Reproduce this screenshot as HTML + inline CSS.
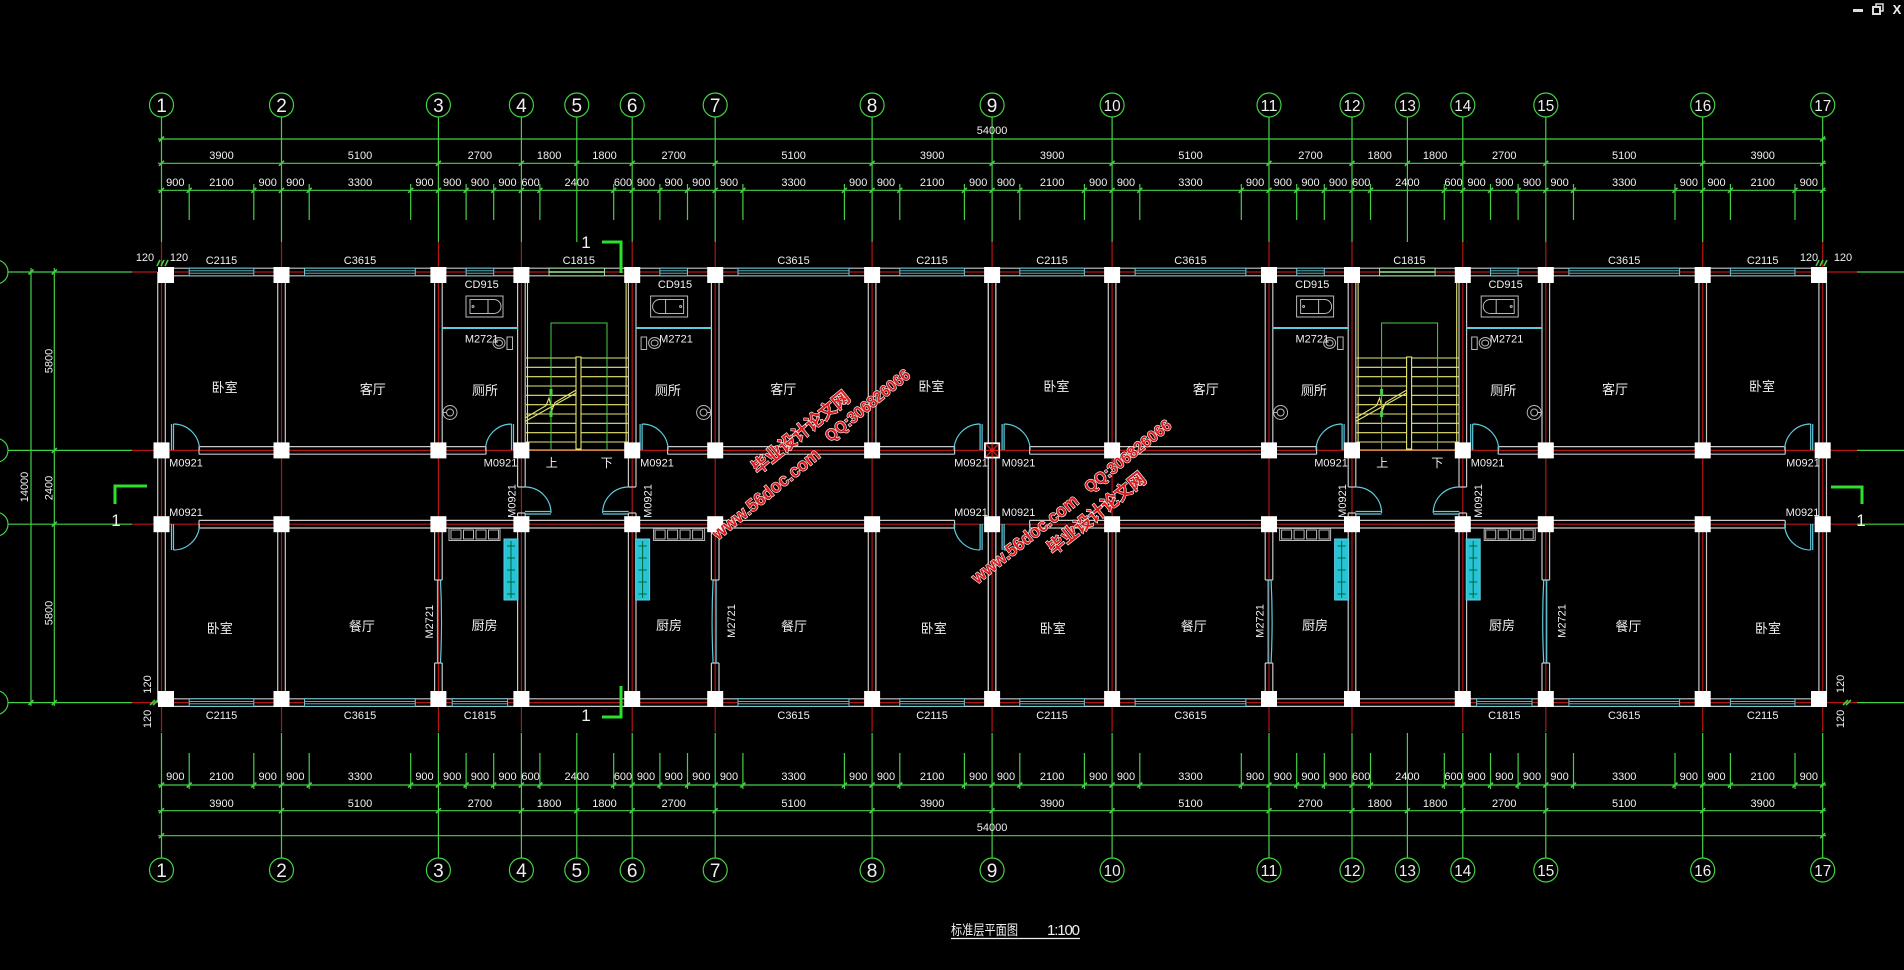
<!DOCTYPE html>
<html><head><meta charset="utf-8"><style>
html,body{margin:0;padding:0;background:#000;overflow:hidden}
svg{display:block}
text{font-family:"Liberation Sans","Noto Sans CJK SC",sans-serif;fill:#f0f0f0}
.t{font-size:11px;text-anchor:middle}
.r{font-size:13px;text-anchor:middle}
.b{font-size:19px;text-anchor:middle}
.b2{font-size:16px;text-anchor:middle}
.s{font-size:17px;text-anchor:middle}
.wm text{font-weight:bold;fill:#dc1c1c;stroke:#ffffff;stroke-width:1.2px;paint-order:stroke fill;text-anchor:middle;dominant-baseline:central}
</style></head><body>
<svg width="1904" height="970" viewBox="0 0 1904 970" xmlns="http://www.w3.org/2000/svg">
<rect width="1904" height="970" fill="#000"/>
<defs>
<path id="ts" fill="none" stroke="#44d044" stroke-width="1.6" d="M159 2.5l5 -5M186.7 2.5l5 -5M251.3 2.5l5 -5M279 2.5l5 -5M306.7 2.5l5 -5M408.2 2.5l5 -5M435.9 2.5l5 -5M463.6 2.5l5 -5M491.2 2.5l5 -5M518.9 2.5l5 -5M537.4 2.5l5 -5M611.2 2.5l5 -5M629.7 2.5l5 -5M657.4 2.5l5 -5M685 2.5l5 -5M712.7 2.5l5 -5M740.4 2.5l5 -5M841.9 2.5l5 -5M869.6 2.5l5 -5M897.3 2.5l5 -5M961.9 2.5l5 -5M989.6 2.5l5 -5M1017.3 2.5l5 -5M1081.9 2.5l5 -5M1109.6 2.5l5 -5M1137.3 2.5l5 -5M1238.8 2.5l5 -5M1266.5 2.5l5 -5M1294.2 2.5l5 -5M1321.8 2.5l5 -5M1349.5 2.5l5 -5M1368 2.5l5 -5M1441.8 2.5l5 -5M1460.3 2.5l5 -5M1488 2.5l5 -5M1515.6 2.5l5 -5M1543.3 2.5l5 -5M1571 2.5l5 -5M1672.5 2.5l5 -5M1700.2 2.5l5 -5M1727.9 2.5l5 -5M1792.5 2.5l5 -5M1820.2 2.5l5 -5"/>
<path id="tc" fill="none" stroke="#44d044" stroke-width="1.6" d="M159 2.5l5 -5M279 2.5l5 -5M435.9 2.5l5 -5M518.9 2.5l5 -5M574.3 2.5l5 -5M629.7 2.5l5 -5M712.7 2.5l5 -5M869.6 2.5l5 -5M989.6 2.5l5 -5M1109.6 2.5l5 -5M1266.5 2.5l5 -5M1349.5 2.5l5 -5M1404.9 2.5l5 -5M1460.3 2.5l5 -5M1543.3 2.5l5 -5M1700.2 2.5l5 -5M1820.2 2.5l5 -5"/>
<path id="ex" fill="none" stroke="#44d044" stroke-width="1.2" d="M189.2 0v36M253.8 0v36M309.2 0v36M410.7 0v36M466.1 0v36M493.7 0v36M539.9 0v36M613.7 0v36M659.9 0v36M687.5 0v36M742.9 0v36M844.4 0v36M899.8 0v36M964.4 0v36M1019.8 0v36M1084.4 0v36M1139.8 0v36M1241.3 0v36M1296.7 0v36M1324.3 0v36M1370.5 0v36M1444.3 0v36M1490.5 0v36M1518.1 0v36M1573.5 0v36M1675 0v36M1730.4 0v36M1795 0v36"/>
<path id="ax" fill="none" stroke="#44d044" stroke-width="1.2" d="M161.5 0v125M281.5 0v125M438.4 0v125M521.4 0v125M576.8 0v125M632.2 0v125M715.2 0v125M872.1 0v125M992.1 0v125M1112.1 0v125M1269 0v125M1352 0v125M1407.4 0v125M1462.8 0v125M1545.8 0v125M1702.7 0v125M1822.7 0v125"/>
<g id="bub" fill="#000" stroke="#44d044" stroke-width="1.2">
<circle cx="161.5" cy="0" r="12"/><circle cx="281.5" cy="0" r="12"/><circle cx="438.4" cy="0" r="12"/><circle cx="521.4" cy="0" r="12"/><circle cx="576.8" cy="0" r="12"/><circle cx="632.2" cy="0" r="12"/><circle cx="715.2" cy="0" r="12"/><circle cx="872.1" cy="0" r="12"/><circle cx="992.1" cy="0" r="12"/><circle cx="1112.1" cy="0" r="12"/><circle cx="1269" cy="0" r="12"/><circle cx="1352" cy="0" r="12"/><circle cx="1407.4" cy="0" r="12"/><circle cx="1462.8" cy="0" r="12"/><circle cx="1545.8" cy="0" r="12"/><circle cx="1702.7" cy="0" r="12"/><circle cx="1822.7" cy="0" r="12"/>
</g>
<g id="cr" fill="#fff">
<rect x="273.5" y="0" width="16" height="16"/><rect x="430.4" y="0" width="16" height="16"/><rect x="513.4" y="0" width="16" height="16"/><rect x="624.2" y="0" width="16" height="16"/><rect x="707.2" y="0" width="16" height="16"/><rect x="864.1" y="0" width="16" height="16"/><rect x="984.1" y="0" width="16" height="16"/><rect x="1104.1" y="0" width="16" height="16"/><rect x="1261" y="0" width="16" height="16"/><rect x="1344" y="0" width="16" height="16"/><rect x="1454.8" y="0" width="16" height="16"/><rect x="1537.8" y="0" width="16" height="16"/><rect x="1694.7" y="0" width="16" height="16"/>
</g>
<g id="q">
<path fill="none" stroke="#c8c8c8" stroke-width="1.2" d="M157.7 272V702.6M165.3 272V702.6M277.7 272V450.4M285.3 272V450.4M277.7 524.2V702.6M285.3 524.2V702.6M434.6 272V450.4M442.2 272V450.4M434.6 524.2V580M442.2 524.2V580M434.6 663V702.6M442.2 663V702.6M517.6 272V487M525.2 272V487M517.6 513V702.6M525.2 513V702.6M199 446.6H486M199 454.2H486M199 520.4H577M199 528H577M434.6 580H442.2M434.6 663H442.2M517.6 487H525.2M517.6 513H525.2M199 446.6V454.2M486 446.6V454.2M199 520.4V528"/>
<path fill="none" stroke="#5fcde0" stroke-width="1.2" d="M171.5 450V424M173.5 450V424M173.5 424A26 26 0 0 1 199.5 450M171.5 524V550M173.5 524V550M199.5 524A26 26 0 0 1 173.5 550M511.5 450V424M513.5 450V424M511.5 424A26 26 0 0 0 485.5 450M525 511.5H551M525 514H551M551 513A26 26 0 0 0 525 487M437.5 580V663M440.5 580Q442.5 621 440.5 663"/>
<path stroke="#5fcde0" stroke-width="2" d="M442 328H518"/>
<g fill="none" stroke="#b8b8b8" stroke-width="1">
<rect x="466" y="296" width="37" height="21"/>
<path d="M470 299.5H494A7 7 0 0 1 494 313.5H470ZM488 299.5V313.5"/>
<circle cx="473" cy="306.5" r="1"/>
<ellipse cx="499" cy="343" rx="6" ry="5.5"/><ellipse cx="499" cy="343" rx="3.5" ry="3"/>
<rect x="507" y="337" width="5.5" height="12.5"/>
<circle cx="450" cy="412.5" r="7"/><circle cx="450" cy="412.5" r="3.5"/><path d="M442 412.5h5"/>
<rect x="449" y="528.5" width="51" height="12"/>
<rect x="451" y="530" width="10" height="9"/><rect x="463.5" y="530" width="10" height="9"/><rect x="476" y="530" width="10" height="9"/><rect x="488.5" y="530" width="10" height="9"/>
</g>
<rect x="504" y="539" width="14" height="61" fill="#27c3d6" stroke="#5fcde0"/>
<path stroke="#063" stroke-width="1" d="M507 546h8M507 558h8M507 570h8M507 582h8M507 594h8M511 541v57"/>
</g>
<g id="st">
<path fill="none" stroke="#e6e66e" stroke-width="1.1" d="M527.5 276V450M626.1 276V450M526 358H628M526 367.3H628M526 376.7H628M526 386H628M526 395.3H628M526 404.7H628M526 414H628M526 423.3H628M526 432.7H628M526 442H628M526 450H628M525 418L546 405.6L549 398L552 410L555 402.5L577 389.5M525 421.5L577 392.5"/>
<rect x="576" y="357" width="5" height="92" fill="#000" stroke="#e6e66e" stroke-width="1.1"/>
<path fill="none" stroke="#44d044" stroke-width="1" d="M551 450V323H607V450"/>
<path stroke="#44d044" stroke-width="3" d="M551 389v6M551 411v6"/>
</g>
</defs>

<!-- axis / extension lines -->
<use href="#ax" y="117"/>
<use href="#ax" y="733"/>
<path fill="none" stroke="#44d044" stroke-width="1.2" d="M0 272H132M0 450.4H132M0 524.2H132M0 702.6H132M1857 272H1904M1857 450.4H1904M1857 524.2H1904M1857 702.6H1904"/>
<path fill="none" stroke="#b31515" stroke-width="1.2" d="M132 272H1857M132 450.4H1857M132 524.2H1857M132 702.6H1857M161.5 242V732M281.5 242V732M438.4 242V732M521.4 242V732M632.2 242V732M715.2 242V732M872.1 242V732M992.1 242V732M1112.1 242V732M1269 242V732M1352 242V732M1462.8 242V732M1545.8 242V732M1702.7 242V732M1822.7 242V732"/>

<!-- dimension lines -->
<path fill="none" stroke="#44d044" stroke-width="1.2" d="M158 139H1826M158 163.3H1826M158 190.3H1826M158 785H1826M158 810.7H1826M158 835.7H1826M31 268V706M54.3 268V706"/>
<use href="#ex" y="184"/>
<use href="#ex" y="753"/>
<use href="#ts" y="190.3"/>
<use href="#ts" y="785"/>
<use href="#tc" y="163.3"/>
<use href="#tc" y="810.7"/>
<path fill="none" stroke="#44d044" stroke-width="1.6" d="M159 141.5l5 -5M1820.2 141.5l5 -5M159 838.2l5 -5M1820.2 838.2l5 -5M28.5 274.5l5 -5M28.5 705.1l5 -5M51.8 274.5l5 -5M51.8 452.9l5 -5M51.8 526.7l5 -5M51.8 705.1l5 -5M157 266l3 -6M161 266l3 -6M165 266l3 -6M1816 266l3 -6M1820 266l3 -6M1824 266l3 -6M150 705l5 -5M153 705l5 -5M1843 705l5 -5M1846 705l5 -5"/>
<use href="#bub" y="105"/>
<use href="#bub" y="870"/>
<g fill="#000" stroke="#44d044" stroke-width="1.2">
<circle cx="-4" cy="272" r="12"/><circle cx="-4" cy="450.4" r="12"/><circle cx="-4" cy="524.2" r="12"/><circle cx="-4" cy="702.6" r="12"/>
</g>

<!-- walls -->
<path fill="none" stroke="#c8c8c8" stroke-width="1.2" d="M161.5 268.2H1822.7M161.5 275.8H1822.7M161.5 698.8H1822.7M161.5 706.4H1822.7"/>
<use href="#q"/>
<use href="#q" transform="matrix(-1,0,0,1,1153.6,0)"/>
<use href="#q" transform="translate(830.6,0)"/>
<use href="#q" transform="matrix(-1,0,0,1,1984.2,0)"/>

<!-- windows -->
<g fill="#000" stroke="#6cc6d4" stroke-width="1">
<rect x="189.2" y="268.2" width="64.6" height="7.6"/><rect x="304.5" y="268.2" width="110.8" height="7.6"/><rect x="466.1" y="268.2" width="27.6" height="7.6"/><rect x="659.9" y="268.2" width="27.6" height="7.6"/><rect x="738" y="268.2" width="111" height="7.6"/><rect x="899.8" y="268.2" width="64.6" height="7.6"/><rect x="1019.8" y="268.2" width="64.6" height="7.6"/><rect x="1135.1" y="268.2" width="110.8" height="7.6"/><rect x="1296.7" y="268.2" width="27.6" height="7.6"/><rect x="1490.5" y="268.2" width="27.6" height="7.6"/><rect x="1568.9" y="268.2" width="110.7" height="7.6"/><rect x="1730.4" y="268.2" width="64.6" height="7.6"/>
<rect x="189.2" y="698.8" width="64.6" height="7.6"/><rect x="304.5" y="698.8" width="110.8" height="7.6"/><rect x="452.2" y="698.8" width="55.4" height="7.6"/><rect x="738" y="698.8" width="111" height="7.6"/><rect x="899.8" y="698.8" width="64.6" height="7.6"/><rect x="1019.8" y="698.8" width="64.6" height="7.6"/><rect x="1135.1" y="698.8" width="110.8" height="7.6"/><rect x="1476.6" y="698.8" width="55.4" height="7.6"/><rect x="1568.9" y="698.8" width="110.7" height="7.6"/><rect x="1730.4" y="698.8" width="64.6" height="7.6"/>
</g>
<g fill="#000" stroke="#9be89b" stroke-width="1">
<rect x="549" y="268.2" width="55.5" height="7.6"/><rect x="1379.6" y="268.2" width="55.5" height="7.6"/>
</g>
<path fill="none" stroke="#9be89b" stroke-width="1.4" d="M549 272H604.5M1379.6 272H1435.1"/>
<path fill="none" stroke="#6cc6d4" stroke-width="0.9" d="M189.2 270.8H253.8M189.2 273.2H253.8M304.5 270.8H415.3M304.5 273.2H415.3M466.1 270.8H493.7M466.1 273.2H493.7M659.9 270.8H687.5M659.9 273.2H687.5M738 270.8H849M738 273.2H849M899.8 270.8H964.4M899.8 273.2H964.4M1019.8 270.8H1084.4M1019.8 273.2H1084.4M1135.1 270.8H1245.9M1135.1 273.2H1245.9M1296.7 270.8H1324.3M1296.7 273.2H1324.3M1490.5 270.8H1518.1M1490.5 273.2H1518.1M1568.9 270.8H1679.6M1568.9 273.2H1679.6M1730.4 270.8H1795M1730.4 273.2H1795M189.2 701.4H253.8M189.2 703.8H253.8M304.5 701.4H415.3M304.5 703.8H415.3M452.2 701.4H507.6M452.2 703.8H507.6M738 701.4H849M738 703.8H849M899.8 701.4H964.4M899.8 703.8H964.4M1019.8 701.4H1084.4M1019.8 703.8H1084.4M1135.1 701.4H1245.9M1135.1 703.8H1245.9M1476.6 701.4H1532M1476.6 703.8H1532M1568.9 701.4H1679.6M1568.9 703.8H1679.6M1730.4 701.4H1795M1730.4 703.8H1795"/>

<!-- stairs -->
<use href="#st"/>
<use href="#st" transform="translate(830.6,0)"/>

<!-- columns -->
<use href="#cr" y="267"/>
<use href="#cr" y="691"/>
<use href="#cr" y="442.4"/>
<use href="#cr" y="516.2"/>
<g fill="#fff">
<rect x="158" y="267" width="16" height="16"/><rect x="158" y="691" width="16" height="16"/><rect x="153.5" y="442.4" width="16" height="16"/><rect x="153.5" y="516.2" width="16" height="16"/>
<rect x="1811" y="267" width="16" height="16"/><rect x="1811" y="691" width="16" height="16"/><rect x="1814.7" y="442.4" width="16" height="16"/><rect x="1814.7" y="516.2" width="16" height="16"/>
</g>
<rect x="985.1" y="443.4" width="14" height="14" fill="#000" stroke="#fff" stroke-width="1.5"/>
<path stroke="#e02020" stroke-width="1.2" d="M986 444.3L998.2 456.5M998.2 444.3L986 456.5M992.1 443.5V457.5M985.5 450.4H998.7"/>

<!-- section marks -->
<path fill="none" stroke="#2ee02e" stroke-width="3" d="M602 242H621V273M602 717H621V686M147 486H115V504M1831 487H1862V504"/>
<text class="s" x="586" y="248">1</text>
<text class="s" x="586" y="721">1</text>
<text class="s" x="116" y="526">1</text>
<text class="s" x="1861" y="526">1</text>

<!-- bubble numbers -->
<g>
<text class="b" x="161.5" y="112">1</text><text class="b" x="281.5" y="112">2</text><text class="b" x="438.4" y="112">3</text><text class="b" x="521.4" y="112">4</text><text class="b" x="576.8" y="112">5</text><text class="b" x="632.2" y="112">6</text><text class="b" x="715.2" y="112">7</text><text class="b" x="872.1" y="112">8</text><text class="b" x="992.1" y="112">9</text>
<text class="b2" x="1112.1" y="111" textLength="17" lengthAdjust="spacingAndGlyphs">10</text><text class="b2" x="1269" y="111" textLength="17" lengthAdjust="spacingAndGlyphs">11</text><text class="b2" x="1352" y="111" textLength="17" lengthAdjust="spacingAndGlyphs">12</text><text class="b2" x="1407.4" y="111" textLength="17" lengthAdjust="spacingAndGlyphs">13</text><text class="b2" x="1462.8" y="111" textLength="17" lengthAdjust="spacingAndGlyphs">14</text><text class="b2" x="1545.8" y="111" textLength="17" lengthAdjust="spacingAndGlyphs">15</text><text class="b2" x="1702.7" y="111" textLength="17" lengthAdjust="spacingAndGlyphs">16</text><text class="b2" x="1822.7" y="111" textLength="17" lengthAdjust="spacingAndGlyphs">17</text>
<text class="b" x="161.5" y="877">1</text><text class="b" x="281.5" y="877">2</text><text class="b" x="438.4" y="877">3</text><text class="b" x="521.4" y="877">4</text><text class="b" x="576.8" y="877">5</text><text class="b" x="632.2" y="877">6</text><text class="b" x="715.2" y="877">7</text><text class="b" x="872.1" y="877">8</text><text class="b" x="992.1" y="877">9</text>
<text class="b2" x="1112.1" y="876" textLength="17" lengthAdjust="spacingAndGlyphs">10</text><text class="b2" x="1269" y="876" textLength="17" lengthAdjust="spacingAndGlyphs">11</text><text class="b2" x="1352" y="876" textLength="17" lengthAdjust="spacingAndGlyphs">12</text><text class="b2" x="1407.4" y="876" textLength="17" lengthAdjust="spacingAndGlyphs">13</text><text class="b2" x="1462.8" y="876" textLength="17" lengthAdjust="spacingAndGlyphs">14</text><text class="b2" x="1545.8" y="876" textLength="17" lengthAdjust="spacingAndGlyphs">15</text><text class="b2" x="1702.7" y="876" textLength="17" lengthAdjust="spacingAndGlyphs">16</text><text class="b2" x="1822.7" y="876" textLength="17" lengthAdjust="spacingAndGlyphs">17</text>
</g>

<!-- dimension texts top -->
<g class="t">
<text x="992.1" y="134">54000</text>
<text x="221.5" y="159">3900</text><text x="360" y="159">5100</text><text x="479.9" y="159">2700</text><text x="549.1" y="159">1800</text><text x="604.5" y="159">1800</text><text x="673.7" y="159">2700</text><text x="793.6" y="159">5100</text><text x="932.1" y="159">3900</text><text x="1052.1" y="159">3900</text><text x="1190.5" y="159">5100</text><text x="1310.5" y="159">2700</text><text x="1379.7" y="159">1800</text><text x="1435.1" y="159">1800</text><text x="1504.3" y="159">2700</text><text x="1624.2" y="159">5100</text><text x="1762.7" y="159">3900</text>
<text x="175.3" y="186">900</text><text x="221.5" y="186">2100</text><text x="267.7" y="186">900</text><text x="295.3" y="186">900</text><text x="360" y="186">3300</text><text x="424.5" y="186">900</text><text x="452.2" y="186">900</text><text x="479.9" y="186">900</text><text x="507.5" y="186">900</text><text x="530.6" y="186">600</text><text x="576.8" y="186">2400</text><text x="623" y="186">600</text><text x="646" y="186">900</text><text x="673.7" y="186">900</text><text x="701.3" y="186">900</text><text x="729" y="186">900</text><text x="793.6" y="186">3300</text><text x="858.2" y="186">900</text><text x="886" y="186">900</text><text x="932.1" y="186">2100</text><text x="978.2" y="186">900</text><text x="1006" y="186">900</text><text x="1052.1" y="186">2100</text><text x="1098.2" y="186">900</text><text x="1126" y="186">900</text><text x="1190.5" y="186">3300</text><text x="1255.1" y="186">900</text><text x="1282.8" y="186">900</text><text x="1310.5" y="186">900</text><text x="1338.1" y="186">900</text><text x="1361.2" y="186">600</text><text x="1407.4" y="186">2400</text><text x="1453.5" y="186">600</text><text x="1476.6" y="186">900</text><text x="1504.3" y="186">900</text><text x="1532" y="186">900</text><text x="1559.6" y="186">900</text><text x="1624.2" y="186">3300</text><text x="1688.8" y="186">900</text><text x="1716.5" y="186">900</text><text x="1762.7" y="186">2100</text><text x="1808.8" y="186">900</text>
</g>
<!-- dimension texts bottom -->
<g class="t">
<text x="175.3" y="780">900</text><text x="221.5" y="780">2100</text><text x="267.7" y="780">900</text><text x="295.3" y="780">900</text><text x="360" y="780">3300</text><text x="424.5" y="780">900</text><text x="452.2" y="780">900</text><text x="479.9" y="780">900</text><text x="507.5" y="780">900</text><text x="530.6" y="780">600</text><text x="576.8" y="780">2400</text><text x="623" y="780">600</text><text x="646" y="780">900</text><text x="673.7" y="780">900</text><text x="701.3" y="780">900</text><text x="729" y="780">900</text><text x="793.6" y="780">3300</text><text x="858.2" y="780">900</text><text x="886" y="780">900</text><text x="932.1" y="780">2100</text><text x="978.2" y="780">900</text><text x="1006" y="780">900</text><text x="1052.1" y="780">2100</text><text x="1098.2" y="780">900</text><text x="1126" y="780">900</text><text x="1190.5" y="780">3300</text><text x="1255.1" y="780">900</text><text x="1282.8" y="780">900</text><text x="1310.5" y="780">900</text><text x="1338.1" y="780">900</text><text x="1361.2" y="780">600</text><text x="1407.4" y="780">2400</text><text x="1453.5" y="780">600</text><text x="1476.6" y="780">900</text><text x="1504.3" y="780">900</text><text x="1532" y="780">900</text><text x="1559.6" y="780">900</text><text x="1624.2" y="780">3300</text><text x="1688.8" y="780">900</text><text x="1716.5" y="780">900</text><text x="1762.7" y="780">2100</text><text x="1808.8" y="780">900</text>
<text x="221.5" y="807">3900</text><text x="360" y="807">5100</text><text x="479.9" y="807">2700</text><text x="549.1" y="807">1800</text><text x="604.5" y="807">1800</text><text x="673.7" y="807">2700</text><text x="793.6" y="807">5100</text><text x="932.1" y="807">3900</text><text x="1052.1" y="807">3900</text><text x="1190.5" y="807">5100</text><text x="1310.5" y="807">2700</text><text x="1379.7" y="807">1800</text><text x="1435.1" y="807">1800</text><text x="1504.3" y="807">2700</text><text x="1624.2" y="807">5100</text><text x="1762.7" y="807">3900</text>
<text x="992.1" y="831">54000</text>
</g>
<!-- left dims -->
<g class="t">
<text transform="translate(52.5,361) rotate(-90)">5800</text>
<text transform="translate(52.5,488) rotate(-90)">2400</text>
<text transform="translate(52.5,613) rotate(-90)">5800</text>
<text transform="translate(28,487) rotate(-90)">14000</text>
<text x="145" y="261">120</text><text x="179" y="261">120</text>
<text x="1809" y="261">120</text><text x="1843" y="261">120</text>
<text transform="translate(151,684.5) rotate(-90)">120</text>
<text transform="translate(151,719) rotate(-90)">120</text>
<text transform="translate(1844,684) rotate(-90)">120</text>
<text transform="translate(1844,719) rotate(-90)">120</text>
</g>

<!-- window labels -->
<g class="t">
<text x="221.5" y="264">C2115</text><text x="360" y="264">C3615</text><text x="578.8" y="264">C1815</text><text x="793.6" y="264">C3615</text><text x="932.1" y="264">C2115</text><text x="1052.1" y="264">C2115</text><text x="1190.5" y="264">C3615</text><text x="1409.4" y="264">C1815</text><text x="1624.2" y="264">C3615</text><text x="1762.7" y="264">C2115</text>
<text x="481.7" y="288">CD915</text><text x="675" y="288">CD915</text><text x="1312.3" y="288">CD915</text><text x="1505.6" y="288">CD915</text>
<text x="221.5" y="719">C2115</text><text x="360" y="719">C3615</text><text x="479.9" y="719">C1815</text><text x="793.6" y="719">C3615</text><text x="932.1" y="719">C2115</text><text x="1052.1" y="719">C2115</text><text x="1190.5" y="719">C3615</text><text x="1504.3" y="719">C1815</text><text x="1624.2" y="719">C3615</text><text x="1762.7" y="719">C2115</text>
<!-- door labels -->
<text x="481.7" y="342.5">M2721</text><text x="676" y="342.5">M2721</text><text x="1312.3" y="342.5">M2721</text><text x="1506.6" y="342.5">M2721</text>
<text x="186" y="466.5">M0921</text><text x="500.5" y="466.5">M0921</text><text x="657" y="466.5">M0921</text><text x="971" y="466.5">M0921</text><text x="1018.5" y="466.5">M0921</text><text x="1331.1" y="466.5">M0921</text><text x="1487.6" y="466.5">M0921</text><text x="1803" y="466.5">M0921</text>
<text x="186" y="516">M0921</text><text x="971" y="516">M0921</text><text x="1018.5" y="516">M0921</text><text x="1802.5" y="516">M0921</text>
<text transform="translate(515.5,501) rotate(-90)">M0921</text><text transform="translate(651.5,501) rotate(-90)">M0921</text><text transform="translate(1346.1,501) rotate(-90)">M0921</text><text transform="translate(1482.1,501) rotate(-90)">M0921</text>
<text transform="translate(433,621.7) rotate(-90)">M2721</text><text transform="translate(735,621) rotate(-90)">M2721</text><text transform="translate(1263.6,621) rotate(-90)">M2721</text><text transform="translate(1565.6,621) rotate(-90)">M2721</text>
</g>
<g class="r">
<text x="551.7" y="467" font-size="12">上</text><text x="606.7" y="467" font-size="12">下</text>
<text x="1382.3" y="467" font-size="12">上</text><text x="1437.3" y="467" font-size="12">下</text>
</g>

<!-- room labels -->
<g class="r">
<text x="224.6" y="392">卧室</text><text x="372.8" y="394">客厅</text><text x="485" y="395">厕所</text><text x="667.9" y="395">厕所</text><text x="783.2" y="394">客厅</text><text x="931.4" y="391">卧室</text><text x="1056.4" y="391">卧室</text><text x="1205.8" y="394">客厅</text><text x="1313.9" y="395">厕所</text><text x="1503.3" y="395">厕所</text><text x="1615" y="394">客厅</text><text x="1762" y="391">卧室</text>
<text x="219.8" y="633">卧室</text><text x="361.9" y="631">餐厅</text><text x="484.5" y="630">厨房</text><text x="669" y="630">厨房</text><text x="794" y="631">餐厅</text><text x="933.8" y="633">卧室</text><text x="1052.8" y="633">卧室</text><text x="1193.7" y="631">餐厅</text><text x="1315" y="630">厨房</text><text x="1502" y="630">厨房</text><text x="1628.4" y="631">餐厅</text><text x="1768" y="633">卧室</text>
</g>

<!-- watermark -->
<g class="wm">
<text transform="translate(801,432.5) rotate(-39)" font-size="18" textLength="120" lengthAdjust="spacingAndGlyphs">毕业设计论文网</text>
<text transform="translate(868,406) rotate(-39)" font-size="16" textLength="104" lengthAdjust="spacingAndGlyphs">QQ:306826066</text>
<text transform="translate(766,494) rotate(-39)" font-size="18" textLength="133" lengthAdjust="spacingAndGlyphs">www.56doc.com</text>
<text transform="translate(1096.7,513.3) rotate(-38.5)" font-size="18" textLength="120" lengthAdjust="spacingAndGlyphs">毕业设计论文网</text>
<text transform="translate(1128.3,456.7) rotate(-38.5)" font-size="16" textLength="106" lengthAdjust="spacingAndGlyphs">QQ:306826066</text>
<text transform="translate(1025,539) rotate(-38.5)" font-size="18" textLength="131" lengthAdjust="spacingAndGlyphs">www.56doc.com</text>
</g>

<!-- title -->
<text x="951" y="935" font-size="14" textLength="67" lengthAdjust="spacingAndGlyphs">标准层平面图</text>
<text x="1047" y="935" font-size="15" textLength="33" lengthAdjust="spacing">1:100</text>
<path d="M951 938.5H1080" stroke="#f0f0f0" stroke-width="1.3"/>

<!-- window controls -->
<rect x="1853" y="9" width="10" height="3" fill="#ddd"/>
<rect x="1876" y="4" width="7" height="7" fill="none" stroke="#ddd" stroke-width="1.5"/>
<rect x="1873" y="7" width="7" height="7" fill="#000" stroke="#ddd" stroke-width="2"/>
<text x="1897" y="14" font-size="13" font-weight="bold" text-anchor="middle" fill="#ddd">X</text>
</svg>
</body></html>
